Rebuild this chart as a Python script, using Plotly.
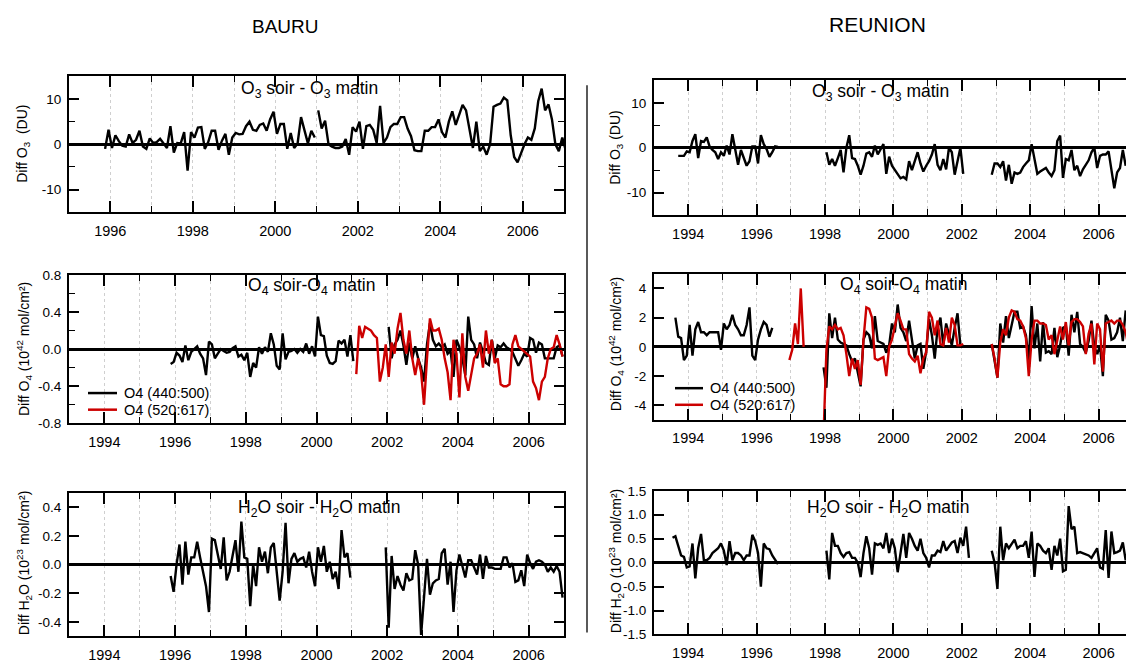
import plotly.graph_objects as go

W, H = 1126, 663
FONT = "Liberation Sans, Arial, sans-serif"
RED = "#cc0000"

# ---------------- DATA (monthly values, segments separated by gaps) ----------------
# BAURU O3 soir - O3 matin (DU)
bauru_o3_start1 = (1995, 11)
bauru_o3_seg1 = [-1, 3.2, -0.8, 2, 0.7, -0.3, -0.5, 2.2, 0.3, 1, 3, -0.5, -1, 1.3, 0.3, 0.5,
                 1.2, 0.2, -0.8, 4, -1.8, 0.3, 0.2, 2.7, -5.8, 2.7, 1.5, 3.7, 3.8, -1, 0.5, 3,
                 3, -1.2, 0.8, 2.3, -2.3, 1.5, 2.5, 2.2, 2.3, 4, 5, 3.2, 3, 4.3, 4.6, 3, 5.5,
                 7.2, 2.3, 4.5, 4.5, -1, 2.5, -0.8, 0.2, 6, 3, 0.2, 3, 1.5]
bauru_o3_start2 = (2001, 1)
bauru_o3_seg2 = [7.5, 3.5, 5.2, 0, -0.5, -0.8, -0.8, -0.5, 1.2, -2.3, 3.8, 2.8, 5.0, -1, 4, 4.3,
                 3.2, 0.3, 8.5, 0.3, 1.5, 3.8, 4.5, 4.5, 6, 6, 3.5, 1.8, -1.3, -1.5, -1.5, 3, 3,
                 3.8, 3.8, 5.5, 2.7, 1.5, 5, 7.3, 4.3, 6.3, 8.7, 7.5, 3, -0.8, 5, -1.5, -0.5,
                 -2.3, 0, 8.3, 8.7, 9, 10.3, 9.7, 2, -2.8, -4, -2, 0, 1.5, 1, 3.5, 9.5, 12.3,
                 7.5, 8.8, 5.5, 0, -1.5, 1.5, -1.3]

# REUNION O3 soir - O3 matin (DU)
reunion_o3_start1 = (1993, 9)
reunion_o3_seg1 = [-1.8, -1.8, -1.8, -0.8, -1, 1.5, 3, -2.3, 1.5, 1.3, 2.3, 0.3, -0.5, -1, -2.5,
                   -1, -1.8, 0.5, -1.5, 3, -0.5, -3.8, -0.5, -2.3, -4, -3, 0.3, 0.3, -3.5, 2.8,
                   0.8, -0.3, -2, -1, 0.3, 0.2]
reunion_o3_start2 = (1998, 1)
reunion_o3_seg2 = [-1, -3.8, -2.5, -4, -2.3, -0.5, -5.5, 0, 2.8, -2.3, -2.5, -4, -6, -4, -1.3,
                   -1, -2, 0.5, -1.5, -0.5, 0.8, -5.8, -2, -4, -5, -6, -6.8, -6.5, -7, -3, -5,
                   -3, -1, -3.5, -5.3, -4, -3, -1.5, 0.8, -3.8, -5, -2.5, -4.8, 0, -1, -6, -3,
                   0, -5.8]
reunion_o3_start3 = (2002, 11)
reunion_o3_seg3 = [-6, -3.5, -3.5, -4.3, -3, -7.3, -3.8, -8, -5.5, -5.8, -5.5, -4.3, -3.5, -2.8,
                   0.8, -3, -5.8, -5.3, -4.8, -4.5, -5.5, -6.3, -5, 1.5, 2.7, -6.7, -2.5, -2.8,
                   -0.5, -5, -4, -6.3, -4.8, -3.8, -2.8, -1, 0, -4.5, -1.8, -1.5, -1.5, -0.8,
                   -5, -9, -5.5, -4.5, -0.5, -4]

# BAURU O4 soir - O4 matin (1e42 mol/cm2)
bauru_o4a_start1 = (1995, 11)
bauru_o4a_seg1 = [-0.16, -0.14, -0.04, -0.07, -0.14, 0.04, -0.12, -0.03, 0, 0.03, -0.05, -0.1,
                  -0.28, 0.08, 0.05, -0.1, -0.05, 0, -0.02, -0.04, -0.03, 0.01, 0.03, -0.08,
                  -0.06, -0.12, -0.04, -0.3, -0.15, -0.2, 0.02, -0.05, 0.02, -0.03, 0.17, 0.05,
                  -0.18, -0.22, 0.17, -0.11, -0.03, -0.02, 0, -0.04, 0, -0.03, 0.06, -0.05,
                  0.03, -0.08, 0.35, 0.15, 0.14, -0.07, -0.15, -0.16, -0.13, 0.09, 0.06, 0.1,
                  -0.08, 0.15, -0.13]
bauru_o4a_start2 = (2002, 1)
bauru_o4a_seg2 = [0.24, -0.1, 0.05, 0.1, 0.2, 0.04, -0.17, 0.07, -0.1, 0.03, -0.1, -0.2, -0.35,
                  0.05, 0.28, 0.1, 0.03, 0.06, 0.02, 0.05, -0.05, -0.02, -0.3, 0.1, 0.02, -0.1,
                  -0.28, 0.35, 0.1, 0.05, -0.1, 0.07, -0.03, -0.15, -0.17, 0.1, -0.1, 0.04,
                  0.02, 0.06, 0.02, 0, -0.03, -0.1, -0.18, -0.12, -0.05, -0.08, 0.12, 0.1,
                  -0.04, 0.07, 0.05, -0.1, -0.1, -0.1, -0.1, 0.02, 0.04, -0.08]
bauru_o4b_start1 = (2001, 2)
bauru_o4b_seg1 = [-0.27, 0.25, 0.12, 0.24, 0.22, 0.2, 0.15, 0.12, -0.35, -0.2, 0.05, -0.3, 0.07,
                  -0.05, 0.22, 0.39, 0.1, -0.05, 0.2, -0.1, -0.28, -0.1, -0.25, -0.6, -0.1,
                  0.33, 0.2, 0.2, 0.22, 0.1, -0.1, -0.25, -0.55, 0.1, -0.05, -0.52, 0.17, -0.3,
                  -0.45, -0.25, -0.1, -0.05, 0.05, -0.2, 0.2, -0.05, 0.1, -0.15, -0.1, -0.38,
                  -0.4, -0.4, -0.38, 0.05, 0.15, 0.03, 0, -0.02, -0.05, -0.08, -0.35, -0.42,
                  -0.55, -0.35, -0.3, -0.1, 0, 0.02, 0.15, 0.05, -0.08]

# REUNION O4 soir - O4 matin (1e42 mol/cm2)
reunion_o4a_start1 = (1993, 8)
reunion_o4a_seg1 = [2, 0.7, 0.6, -0.9, -0.6, 1.5, -0.6, 1.2, 1.7, 1, 1, 0.8, 1, 1, 1, 1, -0.2,
                    1.6, 1.2, 1.5, 2.2, 1.5, 1.2, 0.8, 0.8, 1.5, 2.7, -0.6, -0.9, 0.5, 1.2, 1.7,
                    1.5, 0.7, 1.3]
reunion_o4a_start2 = (1997, 12)
reunion_o4a_seg2 = [-1.4, -2.8, 2.3, 0.6, 2, 0.5, 0.3, 0.2, 0.1, -0.5, -1, -0.8, -1.8, -2.7, 0.5,
                    1, 0.8, -0.1, 2.1, 0.4, 0.3, 0.2, -0.4, 0.1, 1.6, 1, 2.9, 1.3, 1, 0.4, 1.8,
                    0.5, -0.8, 0.1, 0.2, -1.5, -0.3, 1.9, 0.8, -0.8, 1.3, 2, 0.1, 1.6, 0.9, 0.1,
                    1.3, 2.3, 0.1]
reunion_o4a_start3 = (2002, 11)
reunion_o4a_seg3 = [0.2, -1, -2.1, 1.6, 0.3, 2.1, 0.6, 1.5, 2.4, 2.4, 1.3, 1.4, 0.8, -1, 2.8,
                    -0.1, 1.6, -1, 1.7, -0.4, -0.3, -0.5, 1.3, -0.7, 0.1, 1.3, 1.4, -0.6, 2.2, 1,
                    2.4, 0.2, 0, -0.4, 0.4, 1.8, 0, -0.5, 0.1, -2, 2.2, 1.8, 0.5, 0.6, 1, 2, 0.4,
                    2.5]
reunion_o4b_start1 = (1996, 12)
reunion_o4b_seg1 = [-0.9, -0.2, 1.6, 0.2, 4.0, 0]
reunion_o4b_start2 = (1997, 12)
reunion_o4b_seg2 = [-6, -0.2, 1.4, 1.2, 1.5, 1.2, 1.3, 0.8, -0.5, -2, -0.8, -1.5, -0.9, -2.6, 0.5,
                    2.7, 2.6, 2.0, -0.8, -0.9, -0.8, -0.7, -2, 0, 0.5, 1.5, 2.3, 1.8, 1.2, 1.2,
                    -0.5, -0.8, -1, -0.6, -1.8, -0.8, -0.4, 2.4, 2, 0.8, 1.8, 0.2, 0.1, 1.3, 0.3,
                    2, 1.5, 0.1, 0.1, 0.2]
reunion_o4b_start3 = (2002, 11)
reunion_o4b_seg3 = [0.2, -0.8, -2.1, 0.3, 1.2, 0.8, 2, 2.5, 2.4, 1.9, 1.8, 1.4, 0.6, -2, 0.5, 1.8,
                    1.8, 1.6, 1.6, 1.5, 0.5, 0.8, -0.5, 0.4, 1.4, 0.5, 1.7, 0.1, 1.7, 1.9, 1.9,
                    1.7, 1.4, -0.5, 0.9, 1.6, -1.2, 1.6, 1.2, -1.7, 1.6, 1.7, 1.8, 1.6, 1.8, 1.8,
                    1.5, 1, 0, 1.5]

# BAURU H2O soir - H2O matin (1e23 mol/cm2)
bauru_h2o_start1 = (1995, 11)
bauru_h2o_seg1 = [-0.08, -0.19, 0, 0.14, -0.14, 0.16, -0.07, 0.05, 0.05, 0.16, 0.05, -0.05, -0.15,
                  -0.33, 0.18, 0.17, 0.07, -0.03, 0.19, -0.11, -0.05, 0.05, 0.17, -0.05, 0.3,
                  0.05, 0.04, -0.29, 0, -0.15, 0.12, 0.02, 0.09, -0.06, 0.12, 0.15, -0.05,
                  -0.25, -0.05, 0.29, -0.13, 0.04, 0.08, 0.02, 0.04, 0.05, -0.02, 0.09, -0.05,
                  -0.15, 0.12, 0.02, 0.13, -0.05, 0.02, -0.1, -0.05, -0.17, 0.24, 0.05, 0.08,
                  -0.09]
bauru_h2o_start2 = (2001, 12)
bauru_h2o_seg2 = [0.12, -0.44, 0.06, -0.17, -0.08, -0.14, -0.18, -0.06, -0.11, -0.1, 0.1, 0,
                  -0.49, -0.2, 0.04, -0.21, -0.13, -0.11, -0.1, 0.08, 0.11, -0.14, 0.02, -0.33,
                  -0.04, 0.07, -0.02, -0.09, 0.03, 0.03, -0.02, -0.07, 0.07, -0.1, 0.06, -0.02,
                  -0.02, -0.03, -0.03, -0.03, 0.05, 0.05, -0.02, 0.01, -0.12, -0.11, -0.04,
                  -0.15, 0.07, 0.01, -0.03, 0.02, 0.03, 0.02, 0, -0.05, -0.02, -0.05, -0.01,
                  -0.05, -0.23]

# REUNION H2O soir - H2O matin (1e23 mol/cm2)
reunion_h2o_start1 = (1993, 7)
reunion_h2o_seg1 = [0.52, 0.55, 0.35, 0.15, 0.12, -0.1, -0.08, 0.4, -0.33, 0.3, 0.6, 0.05, 0.05,
                    0.1, 0.2, 0.25, 0.3, 0.4, 0.25, -0.05, 0.45, 0.05, 0.2, 0.2, 0.15, 0.05, 0.15,
                    0.15, 0.58, 0.45, 0.2, -0.5, 0.4, 0.3, 0.28, 0.15, 0.05, -0.03]
reunion_h2o_start2 = (1998, 1)
reunion_h2o_seg2 = [0.25, -0.35, 0.62, 0.35, 0.35, 0.2, 0.12, 0.2, 0.22, 0.1, 0.1, 0, -0.3, 0.2,
                    0.55, 0.3, -0.25, 0.4, 0.37, 0.4, 0.3, 0.62, 0.2, 0.5, 0.3, -0.2, 0.2, 0.6,
                    0.1, 0.62, 0.5, 0.35, 0.25, 0.5, 0.2, 0.1, -0.1, 0.15, 0.15, 0.25, 0.22,
                    0.45, 0.25, 0.35, 0.42, 0.45, 0.2, 0.52, 0.35, 0.75, 0.1]
reunion_h2o_start3 = (2002, 11)
reunion_h2o_seg3 = [0.25, 0, -0.55, 0.75, 0.05, 0.4, 0.3, 0.4, 0.48, 0.3, 0.35, 0.35, 0.45, 0.1,
                    0.65, -0.3, 0.4, 0.35, 0.25, 0.2, 0.3, -0.15, 0.35, 0.15, 0.5, -0.18, -0.15,
                    1.18, 0.7, 0.75, 0.2, 0.22, 0.2, 0.17, 0.15, 0.1, 0.2, 0.3, -0.1, -0.13, 0.68,
                    -0.32, 0.65, 0.2, 0.22, 0.25, 0.42, 0.05, 0.3]

# Tick labels
o3_ticks = [-10, 0, 10]
o3_ticktext = ["-10", "0", "10"]
bauru_o4_ticks = [-0.8, -0.4, 0.0, 0.4, 0.8]
bauru_o4_ticktext = ["-0.8", "-0.4", "0.0", "0.4", "0.8"]
reunion_o4_ticks = [-4, -2, 0, 2, 4]
reunion_o4_ticktext = ["-4", "-2", "0", "2", "4"]
bauru_h2o_ticks = [-0.4, -0.2, 0.0, 0.2, 0.4]
bauru_h2o_ticktext = ["-0.4", "-0.2", "0.0", "0.2", "0.4"]
reunion_h2o_ticks = [-1.5, -1.0, -0.5, 0.0, 0.5, 1.0, 1.5]
reunion_h2o_ticktext = ["-1.5", "-1.0", "-0.5", "0.0", "0.5", "1.0", "1.5"]

legend_labels = ["O4 (440:500)", "O4 (520:617)"]
legend_colors = ["black", RED]


# ---------------- helpers ----------------
def month_x(start, n):
    y0, m0 = start
    return [y0 + (m0 - 1 + i + 0.5) / 12.0 for i in range(n)]


def join(*segs):
    xs, ys = [], []
    for k, (start, vals) in enumerate(segs):
        if k:
            xs.append(None)
            ys.append(None)
        xs += month_x(start, len(vals))
        ys += list(vals)
    return xs, ys


def px(xp):
    return xp / W


def py(yp):
    return 1 - yp / H


def xaxis(dom, rng, anchor):
    return dict(
        domain=dom, range=rng, anchor=anchor, showline=True, linecolor="black", linewidth=2,
        mirror="ticks", ticks="inside", ticklen=11, tickwidth=1.6, tickcolor="black",
        tickmode="linear", tick0=1994, dtick=2, tickformat="d", ticklabelstandoff=4,
        tickfont=dict(size=14.5, color="black", family=FONT),
        showgrid=True, gridcolor="#cfcfcf", gridwidth=1, griddash="dot", zeroline=False,
        minor=dict(tickmode="linear", tick0=1993, dtick=1, ticks="inside", ticklen=6,
                   tickwidth=1.4, tickcolor="black", showgrid=True, gridcolor="#cfcfcf",
                   gridwidth=1, griddash="dot"),
        fixedrange=True,
    )


def yaxis(dom, rng, anchor, tv, tt, minor_dtick=None, mirror="ticks"):
    d = dict(
        domain=dom, range=rng, anchor=anchor, showline=True, linecolor="black", linewidth=2,
        mirror=mirror, ticks="inside", ticklen=10, tickwidth=1.6, tickcolor="black",
        tickmode="array", tickvals=tv, ticktext=tt, ticklabelstandoff=3,
        tickfont=dict(size=13.5, color="black", family=FONT),
        showgrid=False, zeroline=True, zerolinecolor="black", zerolinewidth=2.6,
        fixedrange=True,
    )
    if minor_dtick:
        d["minor"] = dict(tickmode="linear", tick0=0, dtick=minor_dtick, ticks="inside",
                          ticklen=6, tickwidth=1.4, tickcolor="black", showgrid=False)
    return d


LX = [px(69), px(564)]
RX = [px(654), 1.0]
R_END = 1993 + (1126 - 654) / 34.2

fig = go.Figure()

def add(xy, axn, color):
    x, y = xy
    fig.add_trace(go.Scatter(
        x=x, y=y, mode="lines", line=dict(color=color, width=2.4),
        xaxis="x" + ("" if axn == 1 else str(axn)), yaxis="y" + ("" if axn == 1 else str(axn)),
        showlegend=False, hoverinfo="skip",
    ))

add(join((bauru_o3_start1, bauru_o3_seg1), (bauru_o3_start2, bauru_o3_seg2)), 1, "black")
add(join((reunion_o3_start1, reunion_o3_seg1), (reunion_o3_start2, reunion_o3_seg2),
         (reunion_o3_start3, reunion_o3_seg3)), 2, "black")
add(join((bauru_o4a_start1, bauru_o4a_seg1), (bauru_o4a_start2, bauru_o4a_seg2)), 3, "black")
add(join((bauru_o4b_start1, bauru_o4b_seg1)), 3, RED)
add(join((reunion_o4a_start1, reunion_o4a_seg1), (reunion_o4a_start2, reunion_o4a_seg2),
         (reunion_o4a_start3, reunion_o4a_seg3)), 4, "black")
add(join((reunion_o4b_start1, reunion_o4b_seg1), (reunion_o4b_start2, reunion_o4b_seg2),
         (reunion_o4b_start3, reunion_o4b_seg3)), 4, RED)
add(join((bauru_h2o_start1, bauru_h2o_seg1), (bauru_h2o_start2, bauru_h2o_seg2)), 5, "black")
add(join((reunion_h2o_start1, reunion_h2o_seg1), (reunion_h2o_start2, reunion_h2o_seg2),
         (reunion_h2o_start3, reunion_h2o_seg3)), 6, "black")

layout = dict(
    width=W, height=H, autosize=False,
    margin=dict(l=0, r=0, t=0, b=0, pad=0),
    paper_bgcolor="white", plot_bgcolor="white",
    font=dict(family=FONT, color="black"),
    showlegend=False,
    xaxis=xaxis(LX, [1995, 2007], "y"),
    yaxis=yaxis([py(210), py(71)], [-15, 15], "x", o3_ticks, o3_ticktext, 5),
    xaxis2=xaxis(RX, [1993, R_END], "y2"),
    yaxis2=yaxis([py(213), py(75)], [-15, 15], "x2", o3_ticks, o3_ticktext, 5, mirror=False),
    xaxis3=xaxis(LX, [1993, 2007], "y3"),
    yaxis3=yaxis([py(426), py(274)], [-0.8, 0.8], "x3", bauru_o4_ticks, bauru_o4_ticktext, 0.2),
    xaxis4=xaxis(RX, [1993, R_END], "y4"),
    yaxis4=yaxis([py(422.5), py(273)], [-5, 5], "x4", reunion_o4_ticks, reunion_o4_ticktext,
                 None, mirror=False),
    xaxis5=xaxis(LX, [1993, 2007], "y5"),
    yaxis5=yaxis([py(644), py(497)], [-0.5, 0.5], "x5", bauru_h2o_ticks, bauru_h2o_ticktext),
    xaxis6=xaxis(RX, [1993, R_END], "y6"),
    yaxis6=yaxis([py(642), py(495)], [-1.5, 1.5], "x6", reunion_h2o_ticks,
                 reunion_h2o_ticktext, None, mirror=False),
)
fig.update_layout(**layout)

annots = [
    ("BAURU", 285.5, 20, 19, 0),
    ("REUNION", 877.5, 18, 21, 0),
    ("O<sub>3</sub> soir - O<sub>3</sub> matin", 309, 84, 17.5, 0),
    ("O<sub>3</sub> soir - O<sub>3</sub> matin", 880, 87, 17.5, 0),
    ("O<sub>4</sub> soir-O<sub>4</sub> matin", 311, 286, 17.5, 0),
    ("O<sub>4</sub> soir-O<sub>4</sub> matin", 903, 285, 17.5, 0),
    ("H<sub>2</sub>O soir - H<sub>2</sub>O matin", 319, 513, 17.5, 0),
    ("H<sub>2</sub>O soir - H<sub>2</sub>O matin", 888, 513, 17.5, 0),
    ("Diff O<sub>3</sub>  (DU)", 23, 140, 14, -90),
    ("Diff O<sub>3</sub> (DU)", 616, 144, 14, -90),
    ("Diff O<sub>4</sub> (10<sup>42</sup> mol/cm²)", 24, 350, 14, -90),
    ("Diff O<sub>4</sub> (10<sup>42</sup> mol/cm²)", 616, 345, 14, -90),
    ("Diff H<sub>2</sub>O (10<sup>23</sup> mol/cm²)", 24, 569, 14, -90),
    ("Diff H<sub>2</sub>O (10<sup>23</sup> mol/cm²)", 616, 567, 14, -90),
]
for text, x, y, size, ang in annots:
    fig.add_annotation(text=text, x=px(x), y=py(y), xref="paper", yref="paper",
                       xanchor="center", yanchor="middle", showarrow=False, textangle=ang,
                       font=dict(size=size, family=FONT, color="black"))

# legends (line sample + label) for the two O4 panels
for (lx0, lx1, ly0) in [(88, 117, 395), (675, 703, 390)]:
    for k, (lab, col) in enumerate(zip(legend_labels, legend_colors)):
        yy = ly0 + 17 * k
        fig.add_shape(type="line", xref="paper", yref="paper", x0=px(lx0), x1=px(lx1),
                      y0=py(yy), y1=py(yy), line=dict(color=col, width=2.5))
        fig.add_annotation(text=lab, x=px(lx1 + 5), y=py(yy), xref="paper", yref="paper",
                           xanchor="left", yanchor="middle", showarrow=False,
                           font=dict(size=14.5, family=FONT, color="black"))

fig.add_shape(type="line", xref="paper", yref="paper", x0=px(587), x1=px(587),
              y0=py(80), y1=py(640), line=dict(color="black", width=1.3))

fig.write_html(
    "out.html",
    config={"displayModeBar": False},
    post_script="document.body.style.margin='0px';document.body.style.padding='0px';"
                "document.documentElement.style.overflow='hidden';",
)
